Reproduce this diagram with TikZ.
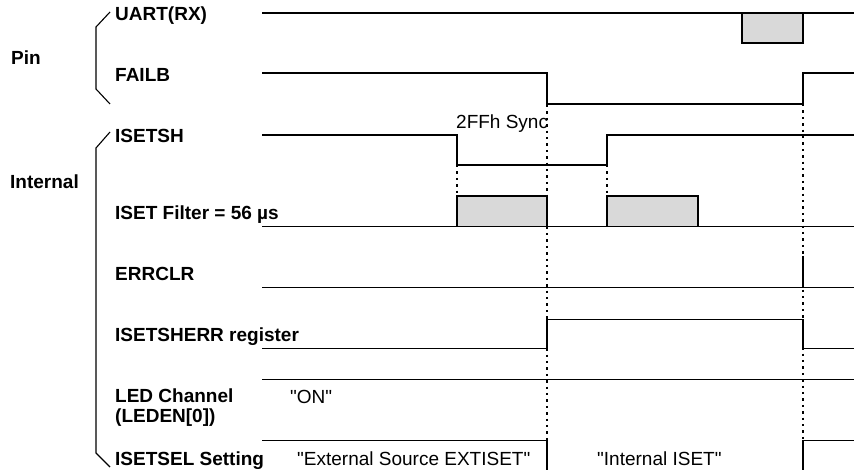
\documentclass[tikz,border=0pt]{standalone}
\usepackage{fontspec}
\setmainfont{Liberation Sans}
\definecolor{boxgray}{HTML}{D9D9D9}
\begin{document}
\begin{tikzpicture}[x=1pt,y=-1pt,
    lbl/.style={anchor=base west,inner sep=0pt,font=\fontsize{19}{20.5}\selectfont\bfseries},
    txt/.style={anchor=base west,inner sep=0pt,font=\fontsize{19}{20.5}\selectfont},
    sig/.style={line width=1.1pt},
    busbox/.style={line width=1.1pt,fill=boxgray},
    guide/.style={line width=2.4pt,dash pattern=on 2.4pt off 4pt},
    grp/.style={line width=1.1pt}
]
\useasboundingbox (0,0) rectangle (854,470);

\node[lbl] (pin) at (11,65)  {Pin};
\node[lbl] (int) at (10,189) {Internal};
\draw[grp] (110,12) -- (96,27) -- (96,89) -- (110,104);
\draw[grp] (110,132) -- (96,148) -- (96,453) -- (110,467);

\node[lbl] (uart)   at (115,21)    {UART(RX)};
\node[lbl] (failb)  at (115,82)    {FAILB};
\node[lbl] (isetsh) at (115,143)   {ISETSH};
\node[lbl] (filt)   at (115,220)   {ISET Filter = 56 µs};
\node[lbl] (errclr) at (115,281)   {ERRCLR};
\node[lbl] (shreg)  at (115,341.5) {ISETSHERR register};
\node[lbl,align=left,anchor=north west] (led) at (115,388.5) {LED Channel\\(LEDEN[0])};
\node[lbl] (isetsel) at (115,465)  {ISETSEL Setting};

\node[txt] (sync) at (456,129) {2FFh Sync};
\node[txt] (on)   at (290,403) {\textquotedbl ON\textquotedbl};
\node[txt] (ext)  at (297,465) {\textquotedbl External Source EXTISET\textquotedbl};
\node[txt] (intl) at (597,465) {\textquotedbl Internal ISET\textquotedbl};

\draw[guide] (457,165) -- (457,196);
\draw[guide] (607,165) -- (607,196);
\draw[guide] (547,73) -- (547,441);
\draw[guide] (803,104) -- (803,441);

\draw[sig] (262,13) -- (854,13);
\draw[busbox] (742,13) rectangle (803,43);
\draw[sig] (262,73) -- (547,73) -- (547,104) -- (803,104) -- (803,73) -- (854,73);
\draw[sig] (262,135) -- (457,135) -- (457,165) -- (607,165) -- (607,135) -- (854,135);
\draw[sig] (262,226.7) -- (854,226.7);
\draw[busbox] (457,196) rectangle (547,226.7);
\draw[busbox] (607,196) rectangle (698,226.7);
\draw[sig] (262,287.3) -- (854,287.3);
\draw[line width=2.5pt] (803,256) -- (803,287.3);
\draw[sig] (262,348.3) -- (547,348.3) -- (547,319.3) -- (803,319.3) -- (803,348.3) -- (854,348.3);
\draw[sig] (262,379.3) -- (854,379.3);
\draw[sig] (262,440.7) -- (547,440.7) -- (547,470);
\draw[sig] (803,470) -- (803,440.7) -- (854,440.7);
\end{tikzpicture}
\end{document}
